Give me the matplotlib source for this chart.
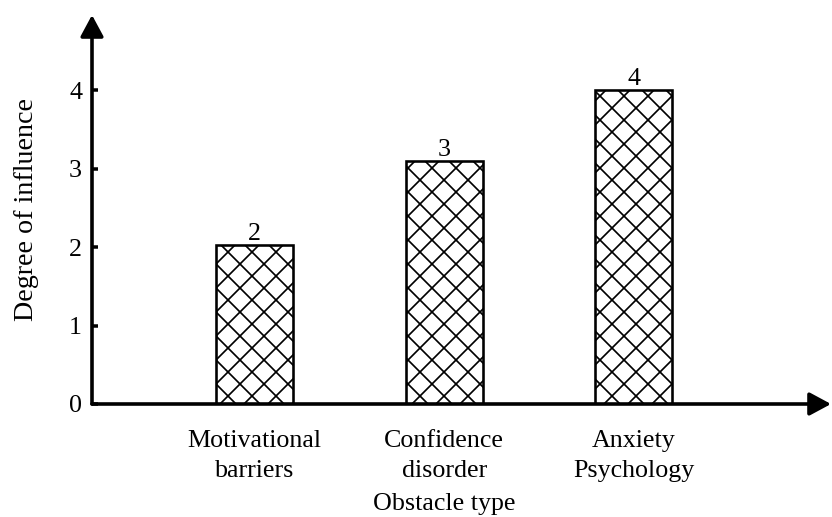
import matplotlib.pyplot as plt
from matplotlib.transforms import blended_transform_factory

kategorie = ['Motivational\nbarriers', 'Confidence\ndisorder', 'Anxiety\nPsychology']
wysokosci = [2.03, 3.1, 4.0]
etykiety = ['2', '3', '4']
yticks = [0, 1, 2, 3, 4]

# dpi 72: punkt == piksel, a kreskowanie wychodzi gęstsze, jak w oryginale
DPI = 72
W, H = 832, 517

plt.rcParams['font.family'] = ['Liberation Serif', 'DejaVu Serif']
plt.rcParams['hatch.linewidth'] = 1.7
plt.rcParams['hatch.color'] = '#1a1a1a'

fig = plt.figure(figsize=(W / DPI, H / DPI), dpi=DPI)
lewo, prawo, dol, gora = 92, 831, 404, 15
ax = fig.add_axes([lewo / W, (H - dol) / H, (prawo - lewo) / W, (dol - gora) / H])

x = list(range(len(kategorie)))
ax.bar(x, wysokosci, width=0.405, facecolor='white', edgecolor='black',
       linewidth=2.6, hatch='x', zorder=2)
for xi, h, t in zip(x, wysokosci, etykiety):
    ax.text(xi, h, t, ha='center', va='bottom', fontsize=26)

ax.set_xlim(-0.858, 3.04)
ax.set_ylim(0, 4.96)
for s in ax.spines.values():
    s.set_visible(False)

strzalka = dict(arrowstyle='-|>,head_length=1.3,head_width=0.7', lw=3.6,
                color='black', shrinkA=0, shrinkB=0, mutation_scale=14)
ax.annotate('', xy=(0, 1), xytext=(0, 0), xycoords='axes fraction',
            arrowprops=strzalka, annotation_clip=False)
ax.annotate('', xy=(1, 0), xytext=(0, 0), xycoords='axes fraction',
            arrowprops=strzalka, annotation_clip=False)

ax.set_yticks(yticks)
ax.set_yticklabels([str(v) for v in yticks], fontsize=26)
ax.tick_params(axis='y', direction='in', length=5.5, width=3.5, pad=10)
ax.set_xticks(x)
ax.set_xticklabels(kategorie, fontsize=26, linespacing=1.48)
ax.tick_params(axis='x', length=0, pad=26)

ax.set_ylabel('Degree of influence', fontsize=28, labelpad=30)
tr = blended_transform_factory(ax.transData, ax.transAxes)
ax.text(1, -0.228, 'Obstacle type', transform=tr, ha='center', va='top',
        fontsize=26)

fig.savefig('out.png', dpi=DPI)
